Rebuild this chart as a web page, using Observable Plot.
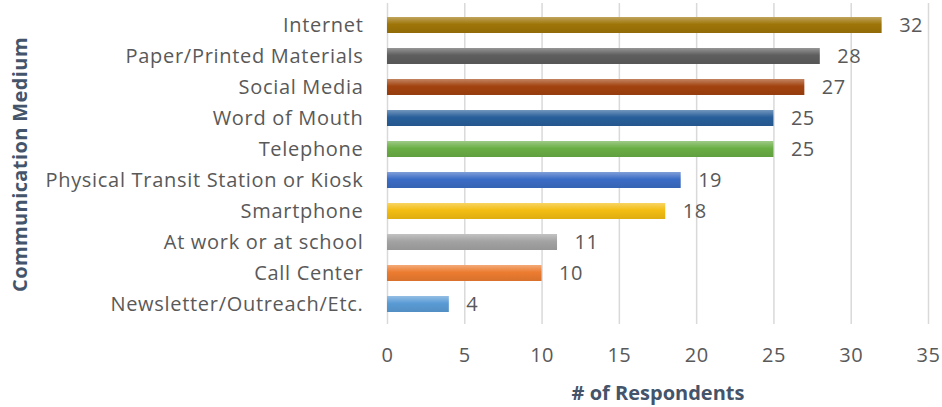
<!DOCTYPE html>
<html><head><meta charset="utf-8">
<script src="https://cdn.jsdelivr.net/npm/d3@7"></script>
<script src="https://cdn.jsdelivr.net/npm/@observablehq/plot@0.6"></script>
<style>
body{margin:0;background:#fff;}
#chart svg{font-family:"Open Sans", Lato, sans-serif;}
</style>
</head><body><div id="chart"></div>
<script>
const categories = ["Internet","Paper/Printed Materials","Social Media","Word of Mouth","Telephone","Physical Transit Station or Kiosk","Smartphone","At work or at school","Call Center","Newsletter/Outreach/Etc."];
const respondents = [32,28,27,25,25,19,18,11,10,4];
const barColors = ["#9e7508","#5e5e5e","#a2430f","#285f9a","#6aae45","#3b6cc5","#f3bd12","#a3a3a3","#ec7c30","#5a9bd5"];
const xTicks = [0,5,10,15,20,25,30,35];

const data = categories.map((c,i)=>({medium:c, value:respondents[i], color:barColors[i]}));

const svg = Plot.plot({
  width: 942, height: 407,
  marginLeft: 387, marginRight: 14, marginTop: 5, marginBottom: 84,
  style: {fontSize: "20px", color: "#595959", background: "#fff"},
  x: {domain: [0,35], ticks: xTicks},
  y: {domain: categories, paddingInner: 0.5, paddingOuter: 0.25},
  marks: [
    Plot.gridX(xTicks, {stroke: "#d9d9d9", strokeOpacity: 1, strokeWidth: 1.5, y1: null, y2: null, insetTop: -2, insetBottom: -1}),
    Plot.barX(data, {x: "value", y: "medium", fill: "color"}),
    Plot.text(data, {x: "value", y: "medium", text: d => String(d.value), textAnchor: "start", dx: 17, fontSize: 20, fill: "#595959"}),
    Plot.axisX({ticks: xTicks, tickSize: 0, tickPadding: 24, fontSize: 20, label: "# of Respondents", labelAnchor: "center", labelOffset: 76, labelArrow: "none"}),
    Plot.axisY({tickSize: 0, tickPadding: 24, label: "Communication Medium", labelAnchor: "center", labelOffset: 375, labelArrow: "none"})
  ]
});

// gradients to mimic shaded bars
const sel = d3.select(svg);
const defs = sel.insert("defs", ":first-child");
barColors.forEach((c,i)=>{
  const g = defs.append("linearGradient").attr("id","grad"+i).attr("x1",0).attr("y1",0).attr("x2",0).attr("y2",1);
  g.append("stop").attr("offset","0%").attr("stop-color", d3.interpolateRgb(c,"#fff")(0.35));
  g.append("stop").attr("offset","45%").attr("stop-color", c);
  g.append("stop").attr("offset","100%").attr("stop-color", d3.color(c).darker(0.25).formatHex());
});
sel.selectAll("g[aria-label='bar'] rect").attr("fill", i => `url(#grad${i})`);
sel.selectAll("g[aria-label='y-axis tick label'] text").attr("letter-spacing","0.7px");
sel.selectAll("g[aria-label='text'] text, g[aria-label='x-axis tick label'] text").attr("letter-spacing","0.5px");
sel.selectAll("g[aria-label='x-axis label'] text, g[aria-label='y-axis label'] text")
  .attr("font-weight","bold").attr("font-size","20px").attr("fill","#44546a");
sel.selectAll("g[aria-label='y-axis label'] text").attr("letter-spacing","0.4px");
document.getElementById("chart").appendChild(svg);
</script>
</body></html>
